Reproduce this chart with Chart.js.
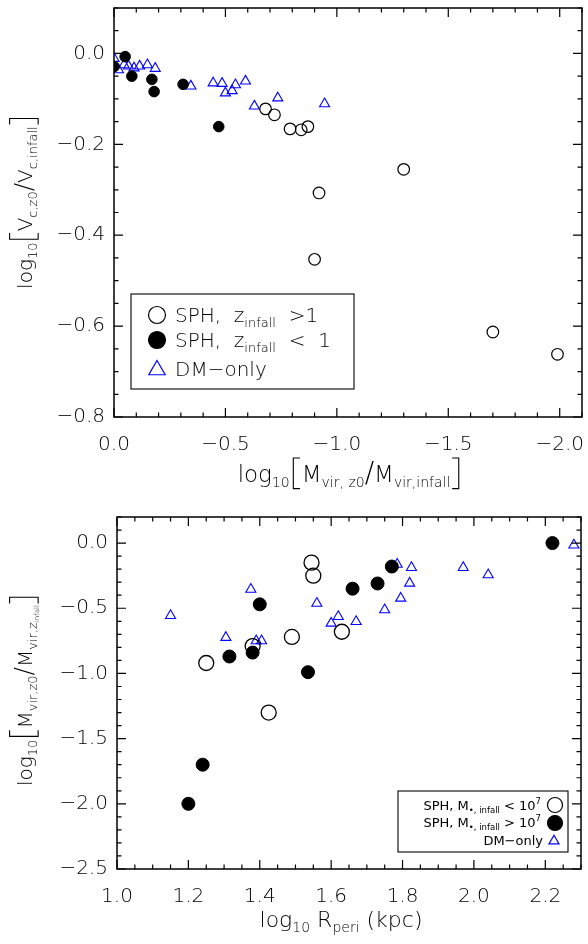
<!DOCTYPE html>
<html>
<head>
<meta charset="utf-8">
<script src="https://cdn.jsdelivr.net/npm/chart.js@4.4.1/dist/chart.umd.min.js"></script>
<style>
html, body { margin: 0; padding: 0; background: #fff; }
canvas { display: block; }
</style>
</head>
<body>
<canvas id="top-chart" width="588" height="500"></canvas>
<canvas id="bottom-chart" width="588" height="444"></canvas>
<script>
// ---- top panel data: log10(Mvir,z0/Mvir,infall) vs log10(Vc,z0/Vc,infall)
const topXTicks = [0, -0.5, -1.0, -1.5, -2.0];
const topYTicks = [0, -0.2, -0.4, -0.6, -0.8];
const topOpenX = [-0.68, -0.72, -0.79, -0.84, -0.87, -0.92, -1.30, -0.90, -1.70, -1.99];
const topOpenY = [-0.122, -0.135, -0.166, -0.168, -0.161, -0.307, -0.255, -0.453, -0.613, -0.662];
const topFilledX = [0.0, -0.05, -0.08, -0.17, -0.18, -0.31, -0.47];
const topFilledY = [-0.029, -0.007, -0.050, -0.057, -0.084, -0.068, -0.161];
const topDmX = [0.0, -0.02, -0.045, -0.065, -0.09, -0.115, -0.15, -0.185, -0.345, -0.445, -0.485, -0.50, -0.53, -0.545, -0.59, -0.63, -0.735, -0.945];
const topDmY = [-0.011, -0.036, -0.025, -0.028, -0.032, -0.028, -0.025, -0.033, -0.072, -0.065, -0.066, -0.087, -0.082, -0.069, -0.061, -0.116, -0.098, -0.111];

// ---- bottom panel data: log10 Rperi vs log10(Mvir,z0/Mvir,zinfall)
const botXTicks = [1.0, 1.2, 1.4, 1.6, 1.8, 2.0, 2.2];
const botYTicks = [0, -0.5, -1.0, -1.5, -2.0, -2.5];
const botOpenX = [1.25, 1.38, 1.425, 1.49, 1.545, 1.55, 1.63];
const botOpenY = [-0.92, -0.79, -1.30, -0.72, -0.15, -0.25, -0.68];
const botFilledX = [1.20, 1.24, 1.315, 1.38, 1.40, 1.535, 1.66, 1.73, 1.77, 2.22];
const botFilledY = [-2.00, -1.70, -0.87, -0.84, -0.47, -0.99, -0.35, -0.31, -0.18, 0.0];
const botDmX = [1.15, 1.305, 1.375, 1.39, 1.405, 1.56, 1.60, 1.62, 1.67, 1.75, 1.785, 1.795, 1.82, 1.825, 1.97, 2.04, 2.28];
const botDmY = [-0.556, -0.724, -0.355, -0.750, -0.750, -0.462, -0.615, -0.564, -0.602, -0.512, -0.163, -0.423, -0.308, -0.188, -0.188, -0.244, -0.015];

const FONT = '"DejaVu Sans", "Liberation Sans", sans-serif';
const WEIGHT = 200;
const BLUE = '#0000ff';

function pts(xs, ys) {
    return xs.map((x, i) => ({ x: x, y: ys[i] }));
}

function fmt(v) {
    return (v < 0 ? '\u2212' : '') + Math.abs(v).toFixed(1);
}

// draws text runs: [text, size, dy] or ['[' / ']', size, 'br']
function drawRuns(ctx, runs, x, y, align, rotate, weight) {
    const wt = weight || WEIGHT;
    ctx.save();
    ctx.translate(x, y);
    if (rotate) ctx.rotate(-Math.PI / 2);
    ctx.fillStyle = '#000';
    ctx.strokeStyle = '#000';
    ctx.textBaseline = 'alphabetic';
    let w = 0;
    const widths = runs.map(r => {
        if (r[2] === 'br') return r[1] * 0.4;
        ctx.font = wt + ' ' + r[1] + 'px ' + FONT;
        return ctx.measureText(r[0]).width;
    });
    widths.forEach(v => w += v);
    let cx = align === 'center' ? -w / 2 : (align === 'right' ? -w : 0);
    runs.forEach((r, i) => {
        if (r[2] === 'br') {
            const h = r[1];
            const arm = h * 0.22;
            const top = -h * 0.8, bot = h * 0.22;
            ctx.lineWidth = 1.1;
            ctx.beginPath();
            if (r[0] === '[') {
                const lx = cx + h * 0.12;
                ctx.moveTo(lx + arm, top); ctx.lineTo(lx, top); ctx.lineTo(lx, bot); ctx.lineTo(lx + arm, bot);
            } else {
                const lx = cx + widths[i] - h * 0.12;
                ctx.moveTo(lx - arm, top); ctx.lineTo(lx, top); ctx.lineTo(lx, bot); ctx.lineTo(lx - arm, bot);
            }
            ctx.stroke();
        } else {
            ctx.font = wt + ' ' + r[1] + 'px ' + FONT;
            ctx.fillText(r[0], cx, r[2] || 0);
        }
        cx += widths[i];
    });
    ctx.restore();
}

function symbol(ctx, kind, x, y, r) {
    ctx.save();
    ctx.lineWidth = 1.2;
    ctx.beginPath();
    if (kind === 'tri') {
        ctx.strokeStyle = BLUE;
        for (let k = 0; k < 3; k++) {
            const a = -Math.PI / 2 + k * 2 * Math.PI / 3;
            const px = x + r * Math.cos(a), py = y + r * Math.sin(a);
            if (k === 0) ctx.moveTo(px, py); else ctx.lineTo(px, py);
        }
        ctx.closePath();
        ctx.stroke();
    } else {
        ctx.strokeStyle = '#000';
        ctx.fillStyle = '#000';
        ctx.arc(x, y, r, 0, 2 * Math.PI);
        if (kind === 'filled') ctx.fill();
        ctx.stroke();
    }
    ctx.restore();
}

// box frame with inward ticks on all four sides
const framePlugin = {
    id: 'frame',
    afterDatasetsDraw(chart, args, opts) {
        const ctx = chart.ctx;
        const a = chart.chartArea;
        const xs = chart.scales.x, ys = chart.scales.y;
        ctx.save();
        ctx.strokeStyle = '#000';
        ctx.lineWidth = 1.5;
        ctx.strokeRect(a.left, a.top, a.right - a.left, a.bottom - a.top);
        ctx.lineWidth = 1.2;
        ctx.beginPath();
        const xMin = Math.min(xs.min, xs.max), xMax = Math.max(xs.min, xs.max);
        for (let v = Math.ceil(xMin / opts.xMinor - 1e-6) * opts.xMinor; v <= xMax + 1e-9; v += opts.xMinor) {
            const px = xs.getPixelForValue(v);
            const major = Math.abs(v / opts.xMajor - Math.round(v / opts.xMajor)) < 1e-6;
            const len = major ? opts.majorLen : opts.minorLen;
            ctx.moveTo(px, a.bottom); ctx.lineTo(px, a.bottom - len);
            ctx.moveTo(px, a.top); ctx.lineTo(px, a.top + len);
        }
        for (let v = Math.ceil(ys.min / opts.yMinor - 1e-6) * opts.yMinor; v <= ys.max + 1e-9; v += opts.yMinor) {
            const py = ys.getPixelForValue(v);
            const major = Math.abs(v / opts.yMajor - Math.round(v / opts.yMajor)) < 1e-6;
            const len = major ? opts.majorLen : opts.minorLen;
            ctx.moveTo(a.left, py); ctx.lineTo(a.left + len, py);
            ctx.moveTo(a.right, py); ctx.lineTo(a.right - len, py);
        }
        ctx.stroke();
        ctx.restore();
    }
};

const topAnnot = {
    id: 'topAnnot',
    afterDraw(chart) {
        const ctx = chart.ctx;
        // axis titles
        drawRuns(ctx, [['log', 20], ['10', 13, 5], ['[', 28, 'br'], ['V', 20], ['c,z0', 13, 5], ['/', 25],
            ['V', 20], ['c,infall', 13, 5], [']', 28, 'br']], 32, 202, 'center', true);
        drawRuns(ctx, [['log', 23], ['10', 14, 5], ['[', 30, 'br'], ['M', 23], ['vir, z0', 14, 5], ['/', 28],
            ['M', 23], ['vir,infall', 14, 5], [']', 30, 'br']], 350, 482, 'center', false);
        // legend
        ctx.save();
        ctx.strokeStyle = '#000';
        ctx.lineWidth = 1.1;
        ctx.strokeRect(131, 294, 223, 95);
        ctx.restore();
        symbol(ctx, 'open', 157, 315, 8.5);
        symbol(ctx, 'filled', 157, 340, 8.5);
        symbol(ctx, 'tri', 157, 370, 9.5);
        drawRuns(ctx, [['SPH,  z', 20], ['infall', 13, 5], ['  >1', 20]], 175, 322, 'left', false);
        drawRuns(ctx, [['SPH,  z', 20], ['infall', 13, 5], ['  <  1', 20]], 175, 347, 'left', false);
        drawRuns(ctx, [['DM\u2212only', 20]], 175, 376, 'left', false);
    }
};

const botAnnot = {
    id: 'botAnnot',
    afterDraw(chart) {
        const ctx = chart.ctx;
        drawRuns(ctx, [['log', 20], ['10', 13, 5], ['[', 28, 'br'], ['M', 20], ['vir,z0', 13, 5], ['/', 25],
            ['M', 20], ['vir,', 13, 5], ['z', 13, 5], ['infall', 7, 7], [']', 28, 'br']], 32, 190, 'center', true);
        drawRuns(ctx, [['log', 22], ['10', 14, 5], [' R', 22], ['peri', 14, 5], [' (kpc)', 22]], 341, 427, 'center', false);
        ctx.save();
        ctx.strokeStyle = '#000';
        ctx.lineWidth = 1.1;
        ctx.strokeRect(398, 291, 170, 61);
        ctx.restore();
        drawRuns(ctx, [['SPH, M', 13], ['\u2022, infall', 8.5, 3], [' < 10', 13], ['7', 8.5, -6]], 541, 310, 'right', false, 400);
        drawRuns(ctx, [['SPH, M', 13], ['\u2022, infall', 8.5, 3], [' > 10', 13], ['7', 8.5, -6]], 541, 327, 'right', false, 400);
        drawRuns(ctx, [['DM\u2212only', 13]], 543, 345, 'right', false, 400);
        symbol(ctx, 'open', 555, 305, 7.5);
        symbol(ctx, 'filled', 555, 323, 7.5);
        symbol(ctx, 'tri', 554, 341, 5.8);
    }
};

function axisTicks(values) {
    return s => { s.ticks = values.map(v => ({ value: v })); };
}

const tickFont = { family: FONT, size: 20, weight: WEIGHT };

function makeChart(id, sets, xOpt, yOpt, padding, xH, yW, frameOpts, annot) {
    return new Chart(document.getElementById(id).getContext('2d'), {
        type: 'scatter',
        data: { datasets: sets },
        options: {
            responsive: false,
            animation: false,
            layout: { padding: padding, autoPadding: false },
            plugins: { legend: { display: false }, tooltip: { enabled: false }, frame: frameOpts },
            scales: {
                x: Object.assign({
                    type: 'linear',
                    grid: { display: false, drawTicks: false },
                    border: { display: false },
                    ticks: { font: tickFont, color: '#000', padding: 16, maxRotation: 0, callback: v => fmt(v) },
                    afterFit: s => { s.height = xH; s.paddingLeft = 0; s.paddingRight = 0; }
                }, xOpt),
                y: Object.assign({
                    type: 'linear',
                    grid: { display: false, drawTicks: false },
                    border: { display: false },
                    ticks: { font: tickFont, color: '#000', padding: 9, callback: v => fmt(v) },
                    afterFit: s => { s.width = yW; s.paddingTop = 0; s.paddingBottom = 0; }
                }, yOpt)
            }
        },
        plugins: [framePlugin, annot]
    });
}

// filled first so it is drawn on top
makeChart('top-chart', [
    { label: 'SPH, z_infall < 1', data: pts(topFilledX, topFilledY), pointStyle: 'circle', pointRadius: 5.3,
      backgroundColor: '#000', borderColor: '#000', borderWidth: 1 },
    { label: 'SPH, z_infall > 1', data: pts(topOpenX, topOpenY), pointStyle: 'circle', pointRadius: 5.8,
      backgroundColor: 'rgba(0,0,0,0)', borderColor: '#000', borderWidth: 1.2 },
    { label: 'DM-only', data: pts(topDmX, topDmY), pointStyle: 'triangle', pointRadius: 5.8,
      backgroundColor: 'rgba(0,0,0,0)', borderColor: BLUE, borderWidth: 1.1 }
], { min: -2.1, max: 0, reverse: true, afterBuildTicks: axisTicks(topXTicks) },
   { min: -0.8, max: 0.1, afterBuildTicks: axisTicks(topYTicks) },
   { left: 0, right: 6, top: 8, bottom: 0 }, 83, 114,
   { xMinor: 0.1, xMajor: 0.5, yMinor: 0.05, yMajor: 0.2, majorLen: 9, minorLen: 4.5 }, topAnnot);

makeChart('bottom-chart', [
    { label: 'SPH, M > 1e7', data: pts(botFilledX, botFilledY), pointStyle: 'circle', pointRadius: 6.5,
      backgroundColor: '#000', borderColor: '#000', borderWidth: 1 },
    { label: 'SPH, M < 1e7', data: pts(botOpenX, botOpenY), pointStyle: 'circle', pointRadius: 7.5,
      backgroundColor: 'rgba(0,0,0,0)', borderColor: '#000', borderWidth: 1.3 },
    { label: 'DM-only', data: pts(botDmX, botDmY), pointStyle: 'triangle', pointRadius: 5.8,
      backgroundColor: 'rgba(0,0,0,0)', borderColor: BLUE, borderWidth: 1.1 }
], { min: 1.0, max: 2.3, afterBuildTicks: axisTicks(botXTicks) },
   { min: -2.5, max: 0.2, afterBuildTicks: axisTicks(botYTicks) },
   { left: 0, right: 7, top: 17, bottom: 0 }, 75, 117,
   { xMinor: 0.05, xMajor: 0.2, yMinor: 0.1, yMajor: 0.5, majorLen: 9, minorLen: 4.5 }, botAnnot);
</script>
</body>
</html>
